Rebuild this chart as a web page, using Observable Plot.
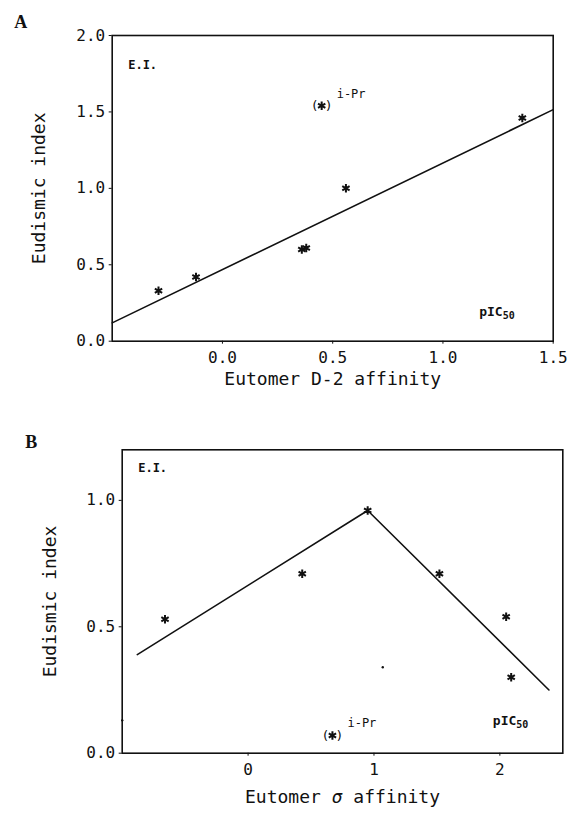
<!DOCTYPE html>
<html><head><meta charset="utf-8">
<script src="https://cdn.jsdelivr.net/npm/d3@7"></script>
<script src="https://cdn.jsdelivr.net/npm/@observablehq/plot@0.6"></script>
<style>
body{margin:0;background:#fff;}
#chart svg{display:block;}
</style></head><body><div id="chart"></div>
<script>
// ---------- Panel A data ----------
const aPointX = [-0.29, -0.12, 0.36, 0.38, 0.56, 1.36];
const aPointY = [0.33, 0.42, 0.60, 0.61, 1.00, 1.46];
const aIPrX = [0.45];
const aIPrY = [1.54];
const aFitX = [-0.5, 1.5];
const aFitY = [0.12, 1.515];
const aTicksX = [0, 0.5, 1.0, 1.5];
const aTicksY = [0, 0.5, 1.0, 1.5, 2.0];

// ---------- Panel B data ----------
const bPointX = [-0.66, 0.43, 0.95, 1.52, 2.05, 2.09];
const bPointY = [0.53, 0.71, 0.96, 0.71, 0.54, 0.30];
const bIPrX = [0.67];
const bIPrY = [0.07];
const bFitX = [-0.88, 0.95, 2.39];
const bFitY = [0.39, 0.96, 0.25];
const bStrayX = [1.07, -1.0];
const bStrayY = [0.34, 0.13];
const bTicksX = [0, 1, 2];
const bTicksY = [0, 0.5, 1.0];

const mono = "'DejaVu Sans Mono', monospace";
const ink = "#111";
const zip = (xs, ys) => xs.map((x, i) => ({x, y: ys[i]}));

function panel(cfg) {
  const svg = Plot.plot({
    width: 574, height: cfg.height,
    marginTop: cfg.mt, marginBottom: cfg.mb, marginLeft: cfg.ml, marginRight: cfg.mr,
    style: {fontFamily: mono, fontSize: "16px", color: ink, background: "#fff", overflow: "visible"},
    x: {domain: cfg.xDomain, ticks: cfg.ticksX, tickFormat: cfg.fmtX, tickSize: 3, tickPadding: 7, label: null},
    y: {domain: cfg.yDomain, ticks: cfg.ticksY, tickFormat: ".1f", tickSize: 3, tickPadding: 4, label: null},
    marks: [
      Plot.frame({stroke: ink, strokeWidth: 1.6}),
      Plot.line(zip(cfg.fitX, cfg.fitY), {x: "x", y: "y", stroke: ink, strokeWidth: 1.6}),
      Plot.dot(zip(cfg.px, cfg.py), {x: "x", y: "y", symbol: "asterisk", r: 4, stroke: ink, strokeWidth: 2}),
      Plot.dot(zip(cfg.ipx, cfg.ipy), {x: "x", y: "y", symbol: "asterisk", r: 4, stroke: ink, strokeWidth: 2}),
      Plot.text(zip(cfg.ipx, cfg.ipy), {x: "x", y: "y", text: () => "(", dx: -7, fontSize: 13, fill: ink}),
      Plot.text(zip(cfg.ipx, cfg.ipy), {x: "x", y: "y", text: () => ")", dx: 7, fontSize: 13, fill: ink}),
      Plot.text(zip(cfg.ipx, cfg.ipy), {x: "x", y: "y", text: () => "i-Pr", dx: 15, dy: -12, textAnchor: "start", fontSize: 12, fill: ink}),
      ...(cfg.sx ? [Plot.dot(zip(cfg.sx, cfg.sy), {x: "x", y: "y", r: 1.2, fill: ink})] : []),
      Plot.text(["E.I."], {frameAnchor: "top-left", dx: 16, dy: cfg.eiDy, textAnchor: "start", fontSize: 12, fontWeight: "bold", fill: ink}),
      Plot.text(["pIC50"], {frameAnchor: "bottom-right", dx: cfg.picDx, dy: cfg.picDy, textAnchor: "start", fontSize: 13, fontWeight: "bold", fill: ink}),
      Plot.text([cfg.xLabel], {frameAnchor: "bottom", dy: cfg.xlDy, textAnchor: "middle", fontSize: 18, fill: ink}),
      Plot.text(["Eudismic index"], {frameAnchor: "left", dx: cfg.ylDx, rotate: -90, textAnchor: "middle", fontSize: 18, fill: ink}),
      Plot.text([cfg.letter], {frameAnchor: "top-left", dx: cfg.letDx, dy: cfg.letDy, textAnchor: "start", lineAnchor: "bottom", fontSize: 18, fontWeight: "bold", fontFamily: "'Liberation Serif', serif", fill: ink})
    ]
  });
  // subscript in pIC50 and italic sigma
  d3.select(svg).selectAll("text").each(function() {
    const t = d3.select(this);
    if (this.textContent === "pIC50") {
      t.text(null);
      t.append("tspan").text("pIC");
      t.append("tspan").attr("font-size", 10).attr("dy", "0.3em").text("50");
    } else if (this.textContent === "Eutomer σ affinity") {
      t.text(null);
      t.append("tspan").text("Eutomer ");
      t.append("tspan").attr("font-style", "italic").text("σ");
      t.append("tspan").text(" affinity");
    }
  });
  return svg;
}

const chart = document.getElementById("chart");
chart.append(panel({
  height: 400, mt: 35, mb: 59.3, ml: 111.7, mr: 21.3,
  xDomain: [-0.5, 1.5], yDomain: [0, 2], ticksX: aTicksX, ticksY: aTicksY, fmtX: ".1f",
  fitX: aFitX, fitY: aFitY, px: aPointX, py: aPointY, ipx: aIPrX, ipy: aIPrY,
  eiDy: 25, picDx: -74, picDy: -25, xLabel: "Eutomer D-2 affinity", xlDy: 44, ylDx: -73,
  letter: "A", letDx: -98, letDy: -8
}));
chart.append(panel({
  height: 415, mt: 49.3, mb: 62.3, ml: 121.7, mr: 11.7,
  xDomain: [-1, 2.5], yDomain: [0, 1.2], ticksX: bTicksX, ticksY: bTicksY, fmtX: "d",
  fitX: bFitX, fitY: bFitY, px: bPointX, py: bPointY, ipx: bIPrX, ipy: bIPrY, sx: bStrayX, sy: bStrayY,
  eiDy: 14, picDx: -70, picDy: -28, xLabel: "Eutomer σ affinity", xlDy: 50, ylDx: -72,
  letter: "B", letDx: -97, letDy: -2
}));
</script></body></html>
